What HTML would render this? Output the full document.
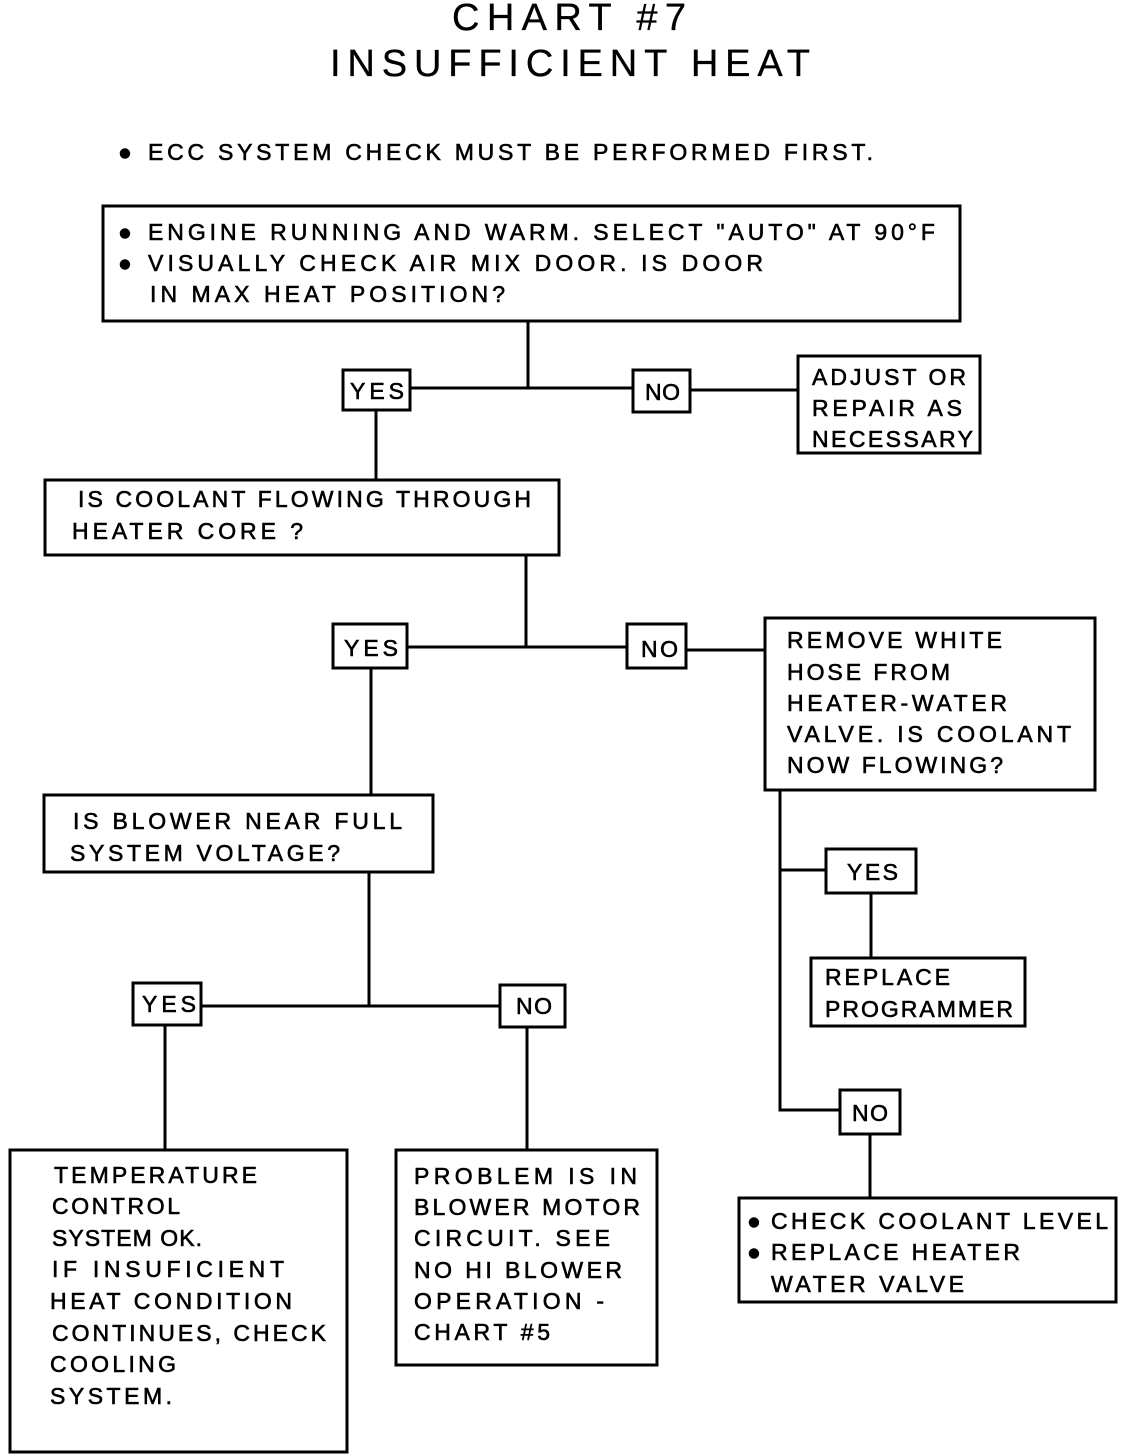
<!DOCTYPE html>
<html><head><meta charset="utf-8"><style>
html,body{margin:0;padding:0;background:#fff;}
svg{display:block;}
text{font-family:"Liberation Sans",sans-serif;font-size:23px;fill:#000;stroke:#000;stroke-width:0.6;}
.t{font-size:38px;stroke-width:0.3;}
</style></head><body>
<svg width="1136" height="1454" viewBox="0 0 1136 1454" xmlns="http://www.w3.org/2000/svg">
<g fill="none" stroke="#000" stroke-width="3">
<rect x="103" y="206" width="857" height="115"/>
<rect x="343" y="370" width="67" height="40"/>
<rect x="633" y="370" width="57" height="42"/>
<rect x="798" y="356" width="182" height="97"/>
<rect x="45" y="480" width="514" height="75"/>
<rect x="333" y="624" width="74" height="44"/>
<rect x="627" y="624" width="59" height="44"/>
<rect x="765" y="618" width="330" height="172"/>
<rect x="44" y="795" width="389" height="77"/>
<rect x="133" y="983" width="68" height="42"/>
<rect x="500" y="985" width="65" height="42"/>
<rect x="10" y="1150" width="337" height="302"/>
<rect x="396" y="1150" width="261" height="215"/>
<rect x="826" y="849" width="90" height="44"/>
<rect x="811" y="958" width="214" height="68"/>
<rect x="840" y="1090" width="60" height="44"/>
<rect x="739" y="1198" width="377" height="104"/>
<path d="M528 321V388M410 388H633M690 390H798M376 410V480M526 555V647M407 647H627M686 650H765M371 668V795M369 872V1006M201 1006H500M165 1025V1150M527 1027V1150M780 790V1110H840M780 870H826M871 893V958M870 1134V1198"/>
</g>
<g>
<text class="t" x="452" y="30" textLength="234">CHART #7</text>
<text class="t" x="330" y="76" textLength="480">INSUFFICIENT HEAT</text>
<text x="118" y="160">●</text>
<text x="148" y="160" textLength="725">ECC SYSTEM CHECK MUST BE PERFORMED FIRST.</text>
<text x="118" y="240">●</text>
<text x="148" y="240" textLength="787">ENGINE RUNNING AND WARM. SELECT "AUTO" AT 90°F</text>
<text x="118" y="271">●</text>
<text x="148" y="271" textLength="615">VISUALLY CHECK AIR MIX DOOR.  IS DOOR</text>
<text x="150" y="302" textLength="355">IN MAX HEAT POSITION?</text>
<text x="350" y="399" textLength="54">YES</text>
<text x="645" y="400" textLength="35">NO</text>
<text x="812" y="385" textLength="154">ADJUST OR</text>
<text x="812" y="416" textLength="150">REPAIR AS</text>
<text x="812" y="447" textLength="161">NECESSARY</text>
<text x="78" y="507" textLength="453">IS COOLANT FLOWING THROUGH</text>
<text x="72" y="539" textLength="231">HEATER CORE ?</text>
<text x="344" y="656" textLength="54">YES</text>
<text x="641" y="657" textLength="37">NO</text>
<text x="787" y="648" textLength="215">REMOVE WHITE</text>
<text x="787" y="680" textLength="163">HOSE FROM</text>
<text x="787" y="711" textLength="220">HEATER-WATER</text>
<text x="787" y="742" textLength="284">VALVE. IS COOLANT</text>
<text x="787" y="773" textLength="216">NOW FLOWING?</text>
<text x="73" y="829" textLength="329">IS BLOWER NEAR FULL</text>
<text x="70" y="861" textLength="270">SYSTEM VOLTAGE?</text>
<text x="142" y="1012" textLength="54">YES</text>
<text x="516" y="1014" textLength="36">NO</text>
<text x="847" y="880" textLength="51">YES</text>
<text x="825" y="985" textLength="125">REPLACE</text>
<text x="825" y="1017" textLength="188">PROGRAMMER</text>
<text x="852" y="1121" textLength="36">NO</text>
<text x="747" y="1229">●</text>
<text x="771" y="1229" textLength="337">CHECK COOLANT LEVEL</text>
<text x="747" y="1260">●</text>
<text x="771" y="1260" textLength="249">REPLACE HEATER</text>
<text x="771" y="1292" textLength="193">WATER VALVE</text>
<text x="54" y="1183" textLength="203">TEMPERATURE</text>
<text x="52" y="1214" textLength="128">CONTROL</text>
<text x="52" y="1246" textLength="150">SYSTEM OK.</text>
<text x="52" y="1277" textLength="232">IF INSUFICIENT</text>
<text x="50" y="1309" textLength="242">HEAT CONDITION</text>
<text x="52" y="1341" textLength="274">CONTINUES, CHECK</text>
<text x="50" y="1372" textLength="126">COOLING</text>
<text x="50" y="1404" textLength="122">SYSTEM.</text>
<text x="414" y="1184" textLength="223">PROBLEM IS IN</text>
<text x="414" y="1215" textLength="226">BLOWER MOTOR</text>
<text x="414" y="1246" textLength="196">CIRCUIT. SEE</text>
<text x="414" y="1278" textLength="208">NO HI BLOWER</text>
<text x="414" y="1309" textLength="190">OPERATION -</text>
<text x="414" y="1340" textLength="136">CHART #5</text>
</g>
</svg>
</body></html>
